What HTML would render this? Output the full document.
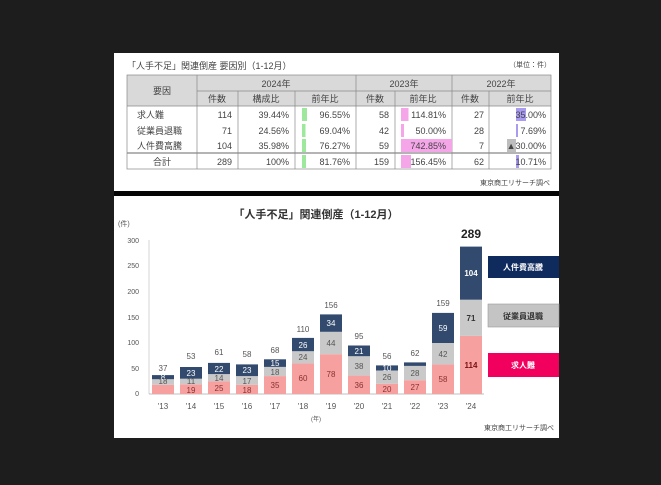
<!DOCTYPE html>
<html><head><meta charset="utf-8"><style>
html,body{margin:0;padding:0;background:#1d1d1d;}
svg{display:block;font-family:"Liberation Sans","Noto Sans CJK JP",sans-serif;}
</style></head><body>
<svg width="661" height="485" viewBox="0 0 661 485" xmlns="http://www.w3.org/2000/svg">
<rect x="0" y="0" width="661" height="485" fill="#1d1d1d"/>
<rect x="114" y="53" width="445" height="138" fill="#fff"/>
<rect x="114" y="191" width="445" height="5" fill="#050505"/>
<rect x="114" y="196" width="445" height="242" fill="#fff"/>

<!-- TABLE -->
<g font-size="9" fill="#444">
<text x="127" y="69">「人手不足」関連倒産 要因別（1-12月）</text>
<text x="551" y="67" text-anchor="end" font-size="7">（単位：件）</text>
<rect x="127" y="75" width="424" height="31" fill="#d9d9d9"/>
<g stroke="#888" stroke-width="0.7" fill="none">
<rect x="127" y="75" width="424" height="94"/>
<line x1="127" y1="106" x2="551" y2="106"/>
<line x1="197" y1="91" x2="551" y2="91"/>
<line x1="127" y1="153" x2="551" y2="153" stroke-width="1.2"/>
<line x1="197" y1="75" x2="197" y2="169"/>
<line x1="238" y1="91" x2="238" y2="169"/>
<line x1="295" y1="91" x2="295" y2="169"/>
<line x1="356" y1="75" x2="356" y2="169"/>
<line x1="395" y1="91" x2="395" y2="169"/>
<line x1="452" y1="75" x2="452" y2="169"/>
<line x1="489" y1="91" x2="489" y2="169"/>
</g>
<text x="162" y="94" text-anchor="middle">要因</text>
<text x="276" y="87" text-anchor="middle">2024年</text>
<text x="404" y="87" text-anchor="middle">2023年</text>
<text x="501" y="87" text-anchor="middle">2022年</text>
<text x="217" y="102" text-anchor="middle">件数</text>
<text x="266" y="102" text-anchor="middle">構成比</text>
<text x="325" y="102" text-anchor="middle">前年比</text>
<text x="375" y="102" text-anchor="middle">件数</text>
<text x="423" y="102" text-anchor="middle">前年比</text>
<text x="470" y="102" text-anchor="middle">件数</text>
<text x="520" y="102" text-anchor="middle">前年比</text>
<!-- bars -->
<rect x="302" y="108" width="5" height="13" fill="#9de89d"/>
<rect x="302" y="124" width="3.5" height="13" fill="#9de89d"/>
<rect x="302" y="139" width="4" height="13" fill="#9de89d"/>
<rect x="302" y="155" width="4" height="13" fill="#9de89d"/>
<rect x="401" y="108" width="7.5" height="13" fill="#f4a6e8"/>
<rect x="401" y="124" width="3" height="13" fill="#f4a6e8"/>
<rect x="401" y="139" width="51" height="13" fill="#f4a6e8"/>
<rect x="401" y="155" width="10" height="13" fill="#f4a6e8"/>
<rect x="516" y="108" width="10" height="13" fill="#a99bf0"/>
<rect x="516" y="124" width="2" height="13" fill="#a99bf0"/>
<rect x="507" y="139" width="9" height="13" fill="#bdbdbd"/>
<rect x="516" y="155" width="3" height="13" fill="#a99bf0"/>
<g>
<text x="137" y="118">求人難</text>
<text x="137" y="134">従業員退職</text>
<text x="137" y="149">人件費高騰</text>
<text x="162" y="165" text-anchor="middle">合計</text>
</g>
<g text-anchor="end">
<text x="232" y="118">114</text><text x="289" y="118">39.44%</text><text x="350" y="118">96.55%</text><text x="389" y="118">58</text><text x="446" y="118">114.81%</text><text x="484" y="118">27</text><text x="546" y="118">35.00%</text>
<text x="232" y="134">71</text><text x="289" y="134">24.56%</text><text x="350" y="134">69.04%</text><text x="389" y="134">42</text><text x="446" y="134">50.00%</text><text x="484" y="134">28</text><text x="546" y="134">7.69%</text>
<text x="232" y="149">104</text><text x="289" y="149">35.98%</text><text x="350" y="149">76.27%</text><text x="389" y="149">59</text><text x="446" y="149">742.85%</text><text x="484" y="149">7</text><text x="546" y="149">▲30.00%</text>
<text x="232" y="165">289</text><text x="289" y="165">100%</text><text x="350" y="165">81.76%</text><text x="389" y="165">159</text><text x="446" y="165">156.45%</text><text x="484" y="165">62</text><text x="546" y="165">10.71%</text>
</g>
<text x="550" y="185" text-anchor="end" font-size="7">東京商工リサーチ調べ</text>
</g>

<!-- CHART -->
<text x="316" y="218" text-anchor="middle" font-size="11" font-weight="bold" fill="#333">「人手不足」関連倒産（1-12月）</text>
<g font-size="7" fill="#555">
<text x="118" y="226">(件)</text>
<g text-anchor="end">
<text x="139" y="243">300</text><text x="139" y="268">250</text><text x="139" y="294">200</text>
<text x="139" y="320">150</text><text x="139" y="345">100</text><text x="139" y="371">50</text><text x="139" y="396">0</text>
</g>
<line x1="149" y1="240" x2="149" y2="394" stroke="#ccc" stroke-width="0.8"/>
<line x1="149" y1="394" x2="484" y2="394" stroke="#aaa" stroke-width="0.8"/>
<text x="316" y="421" text-anchor="middle" font-size="6">(年)</text>
<text x="554" y="430" text-anchor="end" font-size="7" fill="#444">東京商工リサーチ調べ</text>
</g>
<g id="bars"></g>
<!-- legend -->
<rect x="488" y="256" width="71" height="22" fill="#0f2b5e"/>
<text x="523" y="270" text-anchor="middle" font-size="8" font-weight="bold" fill="#fff">人件費高騰</text>
<rect x="488" y="304" width="71" height="23" fill="#c4c4c4" stroke="#999" stroke-width="0.6"/>
<text x="523" y="319" text-anchor="middle" font-size="8" font-weight="bold" fill="#333">従業員退職</text>
<rect x="488" y="353" width="71" height="24" fill="#f2005e"/>
<text x="523" y="368" text-anchor="middle" font-size="8" font-weight="bold" fill="#fff">求人難</text>

<g font-size="8" text-anchor="middle">
<!-- generated bars -->
<g fill="#f6a0a0">
<rect x="152" y="384.8" width="22" height="9.2"/><rect x="180" y="384.3" width="22" height="9.7"/><rect x="208" y="381.2" width="22" height="12.8"/><rect x="236" y="384.8" width="22" height="9.2"/><rect x="264" y="376.1" width="22" height="17.9"/><rect x="292" y="363.4" width="22" height="30.6"/><rect x="320" y="354.2" width="22" height="39.8"/><rect x="348" y="375.6" width="22" height="18.4"/><rect x="376" y="383.8" width="22" height="10.2"/><rect x="404" y="380.2" width="22" height="13.8"/><rect x="432" y="364.4" width="22" height="29.6"/><rect x="460" y="335.9" width="22" height="58.1"/>
</g>
<g fill="#c9c9c9">
<rect x="152" y="379.2" width="22" height="5.6"/><rect x="180" y="378.7" width="22" height="5.6"/><rect x="208" y="374.1" width="22" height="7.1"/><rect x="236" y="376.1" width="22" height="8.7"/><rect x="264" y="366.9" width="22" height="9.2"/><rect x="292" y="351.2" width="22" height="12.2"/><rect x="320" y="331.8" width="22" height="22.4"/><rect x="348" y="356.2" width="22" height="19.4"/><rect x="376" y="370.5" width="22" height="13.3"/><rect x="404" y="365.9" width="22" height="14.3"/><rect x="432" y="343.0" width="22" height="21.4"/><rect x="460" y="299.7" width="22" height="36.2"/>
</g>
<g fill="#324a6e">
<rect x="152" y="375.1" width="22" height="4.1"/><rect x="180" y="367.0" width="22" height="11.7"/><rect x="208" y="362.9" width="22" height="11.2"/><rect x="236" y="364.4" width="22" height="11.7"/><rect x="264" y="359.3" width="22" height="7.6"/><rect x="292" y="337.9" width="22" height="13.3"/><rect x="320" y="314.4" width="22" height="17.4"/><rect x="348" y="345.5" width="22" height="10.7"/><rect x="376" y="365.4" width="22" height="5.1"/><rect x="404" y="362.4" width="22" height="3.5"/><rect x="432" y="312.9" width="22" height="30.1"/><rect x="460" y="246.6" width="22" height="53.1"/>
</g>
<g fill="#fff">
<text x="163" y="380">8</text><text x="191" y="376">23</text><text x="219" y="372">22</text><text x="247" y="373">23</text><text x="275" y="366">15</text><text x="303" y="348">26</text><text x="331" y="326">34</text><text x="359" y="354">21</text><text x="387" y="371">10</text><text x="443" y="331">59</text><text x="471" y="276" font-weight="bold">104</text>
</g>
<g fill="#555">
<text x="163" y="384">18</text><text x="191" y="384">11</text><text x="219" y="381">14</text><text x="247" y="384">17</text><text x="275" y="375">18</text><text x="303" y="360">24</text><text x="331" y="346">44</text><text x="359" y="369">38</text><text x="387" y="380">26</text><text x="415" y="376">28</text><text x="443" y="357">42</text><text x="471" y="321" font-weight="bold" fill="#333">71</text>
</g>
<g fill="#8a3030">
<text x="191" y="393">19</text><text x="219" y="391">25</text><text x="247" y="393">18</text><text x="275" y="388">35</text><text x="303" y="381">60</text><text x="331" y="377">78</text><text x="359" y="388">36</text><text x="387" y="392">20</text><text x="415" y="390">27</text><text x="443" y="382">58</text><text x="471" y="368" font-weight="bold" fill="#7a1010">114</text>
</g>
<g fill="#555">
<text x="163" y="371">37</text><text x="191" y="359">53</text><text x="219" y="355">61</text><text x="247" y="357">58</text><text x="275" y="353">68</text><text x="303" y="332">110</text><text x="331" y="308">156</text><text x="359" y="339">95</text><text x="387" y="359">56</text><text x="415" y="356">62</text><text x="443" y="306">159</text>
</g>
<text x="471" y="238" font-size="12" font-weight="bold" fill="#222">289</text>
<g fill="#555">
<text x="163" y="409">'13</text><text x="191" y="409">'14</text><text x="219" y="409">'15</text><text x="247" y="409">'16</text><text x="275" y="409">'17</text><text x="303" y="409">'18</text><text x="331" y="409">'19</text><text x="359" y="409">'20</text><text x="387" y="409">'21</text><text x="415" y="409">'22</text><text x="443" y="409">'23</text><text x="471" y="409">'24</text>
</g>
</g>
</svg>
</body></html>
